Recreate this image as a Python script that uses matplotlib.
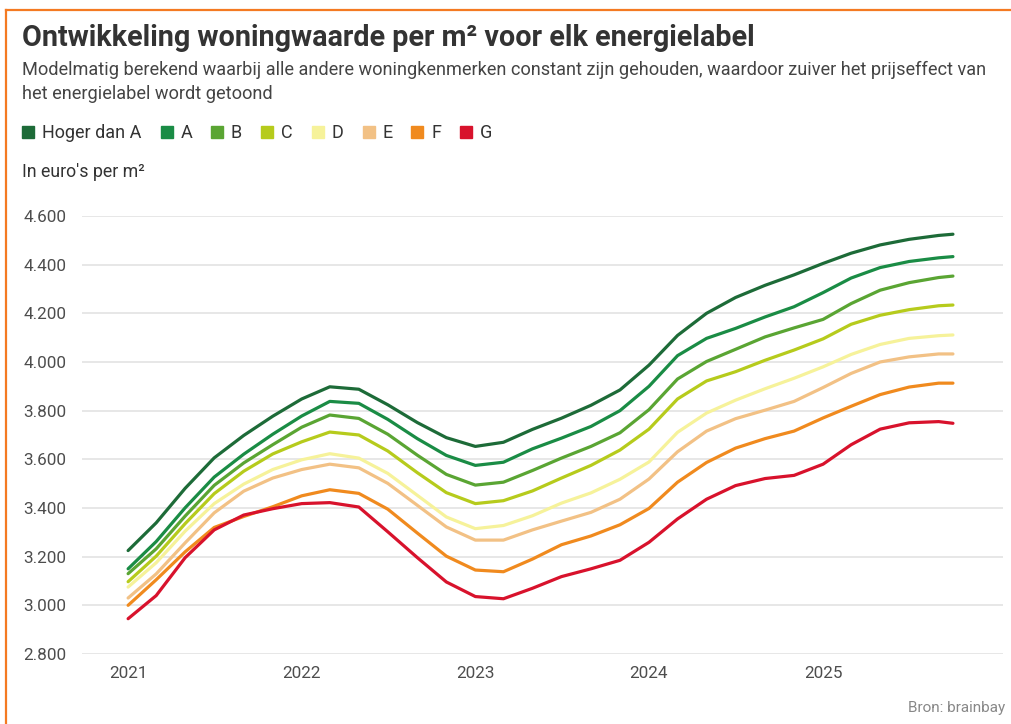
"""Woningwaarde per m2 per energielabel (brainbay)."""

import matplotlib.pyplot as plt
import matplotlib.dates as mdates
from matplotlib.lines import Line2D
from matplotlib.ticker import FuncFormatter
import pandas as pd

plt.rcParams["font.family"] = ["Roboto", "DejaVu Sans"]

# data (euro per m2)
dates = [
    "2021-01", "2021-03", "2021-05", "2021-07", "2021-09", "2021-11",
    "2022-01", "2022-03", "2022-05", "2022-07", "2022-09", "2022-11",
    "2023-01", "2023-03", "2023-05", "2023-07", "2023-09", "2023-11",
    "2024-01", "2024-03", "2024-05", "2024-07", "2024-09", "2024-11",
    "2025-01", "2025-03", "2025-05", "2025-07", "2025-09", "2025-10",
]
hoger_dan_a = [3225, 3339, 3481, 3606, 3698, 3777, 3848, 3898, 3888, 3824, 3751, 3689,
               3653, 3670, 3723, 3769, 3822, 3885, 3987, 4109, 4200, 4265, 4315, 4358,
               4405, 4447, 4481, 4504, 4520, 4525]
label_a = [3150, 3262, 3401, 3527, 3621, 3703, 3778, 3838, 3830, 3764, 3685, 3616,
           3575, 3588, 3643, 3687, 3735, 3800, 3900, 4026, 4097, 4138, 4185, 4227,
           4285, 4345, 4388, 4413, 4428, 4433]
label_b = [3130, 3232, 3367, 3493, 3585, 3660, 3732, 3782, 3768, 3703, 3617, 3538,
           3494, 3506, 3554, 3605, 3653, 3709, 3804, 3930, 4002, 4052, 4103, 4140,
           4175, 4240, 4295, 4326, 4347, 4353]
label_c = [3097, 3202, 3336, 3459, 3551, 3622, 3672, 3712, 3700, 3634, 3545, 3463,
           3418, 3430, 3470, 3523, 3575, 3638, 3724, 3848, 3922, 3960, 4007, 4049,
           4095, 4155, 4192, 4215, 4231, 4234]
label_d = [3075, 3175, 3305, 3418, 3498, 3558, 3598, 3623, 3605, 3542, 3452, 3363,
           3315, 3328, 3368, 3420, 3462, 3518, 3589, 3711, 3790, 3843, 3890, 3933,
           3980, 4031, 4072, 4097, 4108, 4111]
label_e = [3030, 3129, 3257, 3380, 3469, 3523, 3558, 3580, 3565, 3501, 3411, 3322,
           3268, 3268, 3310, 3346, 3382, 3436, 3519, 3631, 3716, 3767, 3802, 3838,
           3895, 3953, 4000, 4021, 4033, 4033]
label_f = [3000, 3105, 3220, 3320, 3365, 3405, 3450, 3475, 3460, 3395, 3297, 3202,
           3145, 3138, 3190, 3249, 3285, 3331, 3398, 3506, 3587, 3646, 3685, 3716,
           3770, 3818, 3866, 3897, 3913, 3913]
label_g = [2945, 3040, 3196, 3310, 3371, 3397, 3418, 3422, 3404, 3302, 3196, 3096,
           3036, 3027, 3070, 3118, 3150, 3185, 3259, 3355, 3436, 3492, 3521, 3534,
           3580, 3660, 3724, 3750, 3755, 3748]

labels = ["Hoger dan A", "A", "B", "C", "D", "E", "F", "G"]
series = [hoger_dan_a, label_a, label_b, label_c, label_d, label_e, label_f, label_g]
colors = ["#1d6b38", "#1a8c45", "#5aa533", "#b6cb1c", "#f6f29a", "#f2c185", "#f08a1e", "#d8122c"]

y_ticks = [2800, 3000, 3200, 3400, 3600, 3800, 4000, 4200, 4400, 4600]
x_years = [2021, 2022, 2023, 2024, 2025]

TEXT = "#333333"
MUTED = "#4d4d4d"


def main() -> None:
    x = pd.to_datetime(dates)
    fig = plt.figure(figsize=(10.12, 7.24), dpi=100)
    ax = fig.add_axes([0.081, 0.0967, 0.910, 0.605])

    for name, values, color in zip(labels, series, colors):
        ax.plot(x, values, color=color, linewidth=2.3, solid_capstyle="round",
                solid_joinstyle="round", label=name, clip_on=False, zorder=3)

    start = pd.Timestamp("2021-01-01")
    ax.set_xlim(start - pd.Timedelta(days=97), start + pd.Timedelta(days=1839))
    ax.set_ylim(y_ticks[0], y_ticks[-1])
    ax.set_yticks(y_ticks)
    ax.yaxis.set_major_formatter(FuncFormatter(lambda v, _: f"{v:,.0f}".replace(",", ".")))
    ax.set_xticks([pd.Timestamp(f"{yr}-01-01") for yr in x_years])
    ax.xaxis.set_major_formatter(mdates.DateFormatter("%Y"))

    ax.grid(axis="y", color="#e3e3e3", linewidth=1.2)
    ax.set_axisbelow(True)
    for side in ["top", "right", "left", "bottom"]:
        ax.spines[side].set_visible(False)
    ax.tick_params(axis="both", length=0, labelsize=12.3, colors=MUTED)
    ax.tick_params(axis="y", pad=11)
    ax.tick_params(axis="x", pad=9)

    fig.text(0.0217, 0.936, "Ontwikkeling woningwaarde per m² voor elk energielabel",
             fontsize=20.7, fontweight="bold", color=TEXT, va="baseline")
    fig.text(0.0217, 0.903,
             "Modelmatig berekend waarbij alle andere woningkenmerken constant zijn "
             "gehouden, waardoor zuiver het prijseffect van",
             fontsize=13.1, color="#444444", va="center")
    fig.text(0.0217, 0.870, "het energielabel wordt getoond",
             fontsize=13.1, color="#444444", va="center")
    fig.text(0.0217, 0.762, "In euro's per m²", fontsize=12.8, color=TEXT, va="center")
    fig.text(0.993, 0.022, "Bron: brainbay", fontsize=11, color="#888888", ha="right",
             va="center")

    handles = [Line2D([], [], marker="s", linestyle="none", markersize=9,
                      markerfacecolor=c, markeredgecolor=c) for c in colors]
    fig.legend(handles, labels, loc="center left", bbox_to_anchor=(0.004, 0.816),
               ncol=8, frameon=False, fontsize=13, handlelength=0.9,
               handletextpad=0.3, columnspacing=0.95, labelcolor=TEXT)

    # orange frame (top and left edge)
    fig.add_artist(Line2D([0.006, 1.0], [0.986, 0.986], color="#f47a22", linewidth=1.6))
    fig.add_artist(Line2D([0.006, 0.006], [0.0, 0.986], color="#f47a22", linewidth=1.6))

    fig.savefig("out.png", dpi=100)
    plt.close(fig)


if __name__ == "__main__":
    main()
